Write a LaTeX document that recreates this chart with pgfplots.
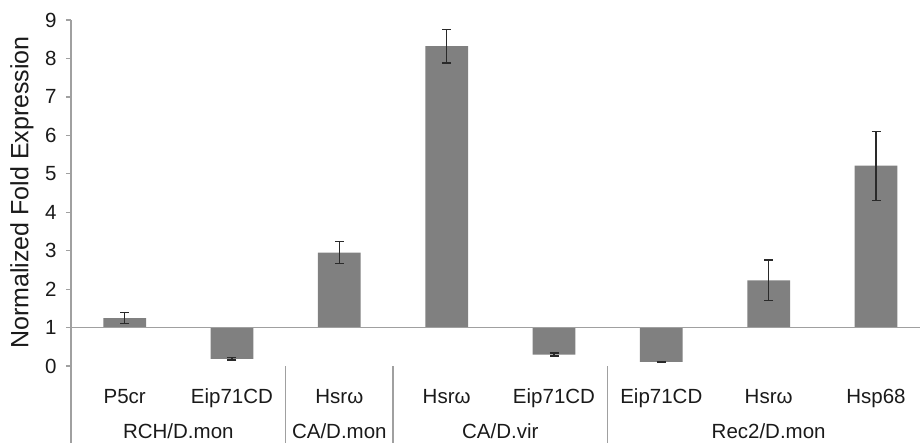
\documentclass[border=0pt]{standalone}
\usepackage{fontspec}
\setmainfont{Liberation Sans}
\usepackage{pgfplots}
\pgfplotsset{compat=1.18}
\usepackage{pgfplotstable}
\usetikzlibrary{calc}
\definecolor{barg}{HTML}{808080}
\definecolor{axg}{HTML}{A0A0A0}
\definecolor{txt}{HTML}{1A1A1A}
\definecolor{errc}{HTML}{2A2A2A}
\pgfplotstableread{
x val err
0 1.25 0.15
1 0.19 0.03
2 2.95 0.28
3 8.32 0.44
4 0.30 0.04
5 0.11 0.01
6 2.23 0.53
7 5.21 0.90
}\data
\begin{document}
\begin{tikzpicture}
\begin{axis}[
  name=ax, at={(0,0)}, anchor=south west,
  scale only axis, width=849pt, height=423pt,
  xmin=-0.5, xmax=7.41, ymin=-3, ymax=8,
  axis line style={draw=none},
  clip=false,
  ytick={-1,0,1,2,3,4,5,6,7,8},
  yticklabels={0,1,2,3,4,5,6,7,8,9},
  ytick pos=left,
  tick align=outside, major tick length=5pt,
  major y tick style={axg, line width=1.2pt},
  xtick={0,1,2,3,4,5,6,7},
  xticklabels={P5cr,Eip71CD,Hsrω,Hsrω,Eip71CD,Eip71CD,Hsrω,Hsp68},
  major x tick style={draw=none},
  xticklabel style={anchor=base, yshift=44pt},
  yticklabel style={anchor=east, xshift=-6pt},
  tick label style={font=\fontsize{20.5}{24}\selectfont, text=txt},
  ylabel={Normalized Fold Expression},
  ylabel style={at={(axis description cs:-0.0577,0.592)}, anchor=center, font=\fontsize{25}{30}\selectfont, text=txt},
]
\draw[axg, line width=1.2pt] (axis cs:-0.5,-3) -- (axis cs:-0.5,8);
\draw[axg, line width=1.2pt] (axis cs:1.5,-3) -- (axis cs:1.5,-1);
\draw[axg, line width=1.2pt] (axis cs:2.5,-3) -- (axis cs:2.5,-1);
\draw[axg, line width=1.2pt] (axis cs:4.5,-3) -- (axis cs:4.5,-1);
\addplot[ybar, bar width=42.7pt, fill=barg, draw=none,
  error bars/.cd, y dir=both, y explicit,
  error bar style={errc, line width=1.2pt},
  error mark options={rotate=90, errc, mark size=4.5pt, line width=1.2pt}]
  table[x=x, y expr=\thisrow{val}-1, y error=err]{\data};
\draw[axg, line width=1.2pt] (axis cs:-0.5,0) -- (axis cs:7.41,0);
\node[anchor=base, font=\fontsize{20.5}{24}\selectfont, text=txt] at (axis cs:0.5,-2.89) {RCH/D.mon};
\node[anchor=base, font=\fontsize{20.5}{24}\selectfont, text=txt] at (axis cs:2,-2.89) {CA/D.mon};
\node[anchor=base, font=\fontsize{20.5}{24}\selectfont, text=txt] at (axis cs:3.5,-2.89) {CA/D.vir};
\node[anchor=base, font=\fontsize{20.5}{24}\selectfont, text=txt] at (axis cs:6,-2.89) {Rec2/D.mon};
\end{axis}
\pgfresetboundingbox
\path ($(ax.south west)+(-71pt,-2pt)$) rectangle ($(ax.north east)+(0,20pt)$);
\end{tikzpicture}
\end{document}
